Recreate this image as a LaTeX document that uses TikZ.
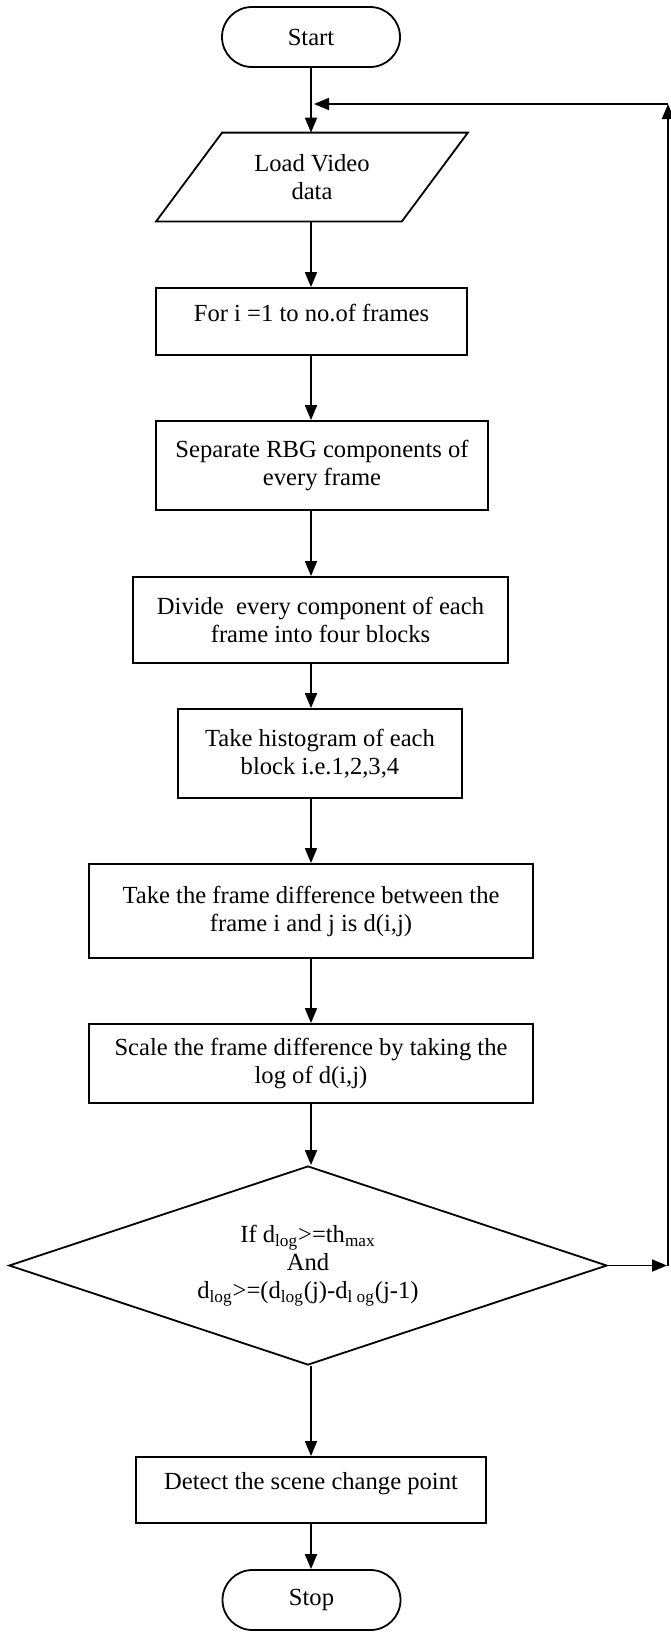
\documentclass[tikz,border=0pt]{standalone}
\usepackage{fontspec}
\setmainfont{Liberation Serif}
\usetikzlibrary{shapes.geometric}
\usetikzlibrary{arrows.meta}
\tikzset{
  box/.style={draw, line width=0.9pt, align=center, inner sep=2pt},
  term/.style={box, rounded corners=15pt, minimum width=89pt, minimum height=30pt},
  io/.style={align=center, inner sep=2pt, minimum width=122.5pt, minimum height=44pt},
  slant/.style={line width=0.9pt, line join=miter},
  decision/.style={box, diamond, aspect=3, inner sep=0pt},
  oneline/.style={text depth=9pt},
  flow/.style={line width=0.9pt, -{Triangle[width=6pt,length=7.5pt]}}
}

\begin{document}
\begin{tikzpicture}[x=0.5pt,y=-0.5pt,font=\fontsize{12.3pt}{14pt}\selectfont]
  \useasboundingbox (0,0) rectangle (670,1633);
  \coordinate (axis) at (311,0);
  % steps, top to bottom
  \node[term] (start) at (311,37) {Start};
  \node[io] (load) at (312,177) {Load Video\\data};
  \draw[slant] ([xshift=16.5pt]load.north west) -- ([xshift=16.5pt]load.north east)
    -- ([xshift=-16.5pt]load.south east) -- ([xshift=-16.5pt]load.south west) -- cycle;
  \node[box, oneline, minimum width=155.5pt, minimum height=33.5pt] (loop) at (311.5,321.5) {For i =1 to no.of frames};
  \node[box, minimum width=166pt, minimum height=44.5pt] (rgb) at (322,465.5) {Separate RBG components of\\every frame};
  \node[box, minimum width=187.5pt, minimum height=43pt] (divide) at (320.5,620) {Divide\ \ every component of each\\frame into four blocks};
  \node[box, minimum width=142pt, minimum height=44.5pt] (hist) at (320,753.5) {Take histogram of each\\block i.e.1,2,3,4};
  \node[box, minimum width=222pt, minimum height=47pt] (diff) at (311,911) {Take the frame difference between the\\frame i and j is d(i,j)};
  \node[box, minimum width=222pt, minimum height=39.5pt] (scale) at (311,1063.5) {Scale the frame difference by taking the\\log of d(i,j)};
  \node[decision, minimum width=299pt, minimum height=99.5pt] (cond) at (308,1265.5)
    {If d\textsubscript{log}>=th\textsubscript{max}\\And\\d\textsubscript{log}>=(d\textsubscript{log}(j)-d\textsubscript{l og}(j-1)};
  \node[box, oneline, minimum width=175pt, minimum height=33pt] (detect) at (311,1490) {Detect the scene change point};
  \node[term] (stop) at (311.5,1600) {Stop};
  % main flow
  \foreach \u/\v in {
    start/load,
    load/loop,
    loop/rgb,
    rgb/divide,
    divide/hist,
    hist/diff,
    diff/scale,
    scale/cond,
    cond/detect,
    detect/stop%
  }{
    \draw[flow] (axis |- \u.south) -- (axis |- \v.north);
  }
  % loop back to the input
  \coordinate (backB) at (668,1265.5);
  \coordinate (backT) at (668,104);
  \draw[flow] (cond.east) -- ([xshift=-0.5pt]backB);
  \draw[flow] (backB) -- (backT);
  \draw[flow, shorten >=1.5pt] (backT) -- (axis |- backT);
\end{tikzpicture}
\end{document}
